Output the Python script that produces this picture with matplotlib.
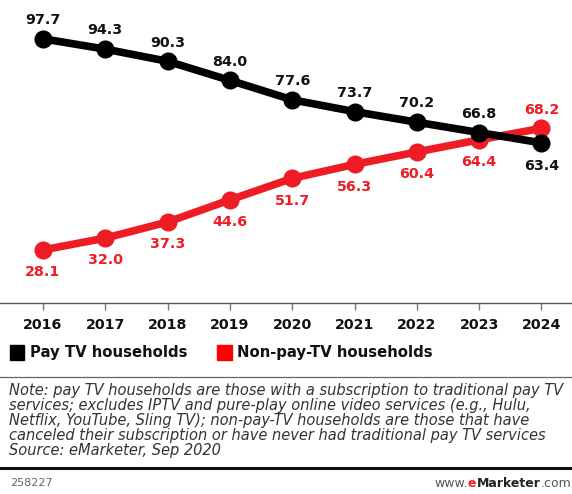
import matplotlib.pyplot as plt

years = [2016, 2017, 2018, 2019, 2020, 2021, 2022, 2023, 2024]
pay_tv = [97.7, 94.3, 90.3, 84.0, 77.6, 73.7, 70.2, 66.8, 63.4]
non_pay_tv = [28.1, 32.0, 37.3, 44.6, 51.7, 56.3, 60.4, 64.4, 68.2]

note_lines = [
    "Note: pay TV households are those with a subscription to traditional pay TV",
    "services; excludes IPTV and pure-play online video services (e.g., Hulu,",
    "Netflix, YouTube, Sling TV); non-pay-TV households are those that have",
    "canceled their subscription or have never had traditional pay TV services",
    "Source: eMarketer, Sep 2020",
]

BLACK = '#000000'
RED = '#ee1c24'
W, H = 572, 494

plt.rcParams['font.family'] = ['DejaVu Sans']
fig = plt.figure(figsize=(W / 100, H / 100), dpi=100)


def fy(px):
    # pixel row (from top) -> figure fraction
    return 1 - px / H


# plot area: full width, from the top down to the axis line at ~303px
ax = fig.add_axes([0, fy(303), 1, 303 / H])
ax.set_xlim(2015.31, 2024.49)
ax.set_ylim(10.6, 110.5)

ax.plot(years, pay_tv, color=BLACK, linewidth=5.5, marker='o', markersize=12, zorder=3)
ax.plot(years, non_pay_tv, color=RED, linewidth=5.5, marker='o', markersize=12, zorder=2)

last = len(years) - 1
for i, (yr, v) in enumerate(zip(years, pay_tv)):
    off = 13.5 if i < last else -16.5
    ax.annotate(f"{v:.1f}", (yr, v), xytext=(0, off), textcoords='offset points',
                ha='center', va='center', fontsize=10.3, fontweight='bold', color='#111111')
for i, (yr, v) in enumerate(zip(years, non_pay_tv)):
    off = -16 if i < last else 13
    ax.annotate(f"{v:.1f}", (yr, v), xytext=(0, off), textcoords='offset points',
                ha='center', va='center', fontsize=10.3, fontweight='bold', color=RED)

for side in ['top', 'right', 'left']:
    ax.spines[side].set_visible(False)
ax.spines['bottom'].set_color('#555555')
ax.spines['bottom'].set_linewidth(1.0)
ax.set_yticks([])
ax.set_xticks(years)
ax.set_xticklabels([str(y) for y in years], fontsize=10.2, fontweight='bold', color='#111111')
ax.tick_params(axis='x', direction='out', length=5, width=1, color='#777777', pad=5.5)

# legend
fig.patches.append(plt.Rectangle((10 / W, fy(360)), 14 / W, 15 / H, color=BLACK,
                                 transform=fig.transFigure, figure=fig))
fig.text(30 / W, fy(352), "Pay TV households", fontsize=10.7, fontweight='bold',
         va='center', ha='left', color='#111111')
fig.patches.append(plt.Rectangle((217 / W, fy(360)), 15 / W, 15 / H, color='#ff0000',
                                 transform=fig.transFigure, figure=fig))
fig.text(237 / W, fy(352), "Non-pay-TV households", fontsize=10.7, fontweight='bold',
         va='center', ha='left', color='#111111')

fig.add_artist(plt.Line2D([0, 1], [fy(377), fy(377)], color='#666666', linewidth=0.9))

for k, line in enumerate(note_lines):
    fig.text(9 / W, fy(390 + k * 15), line, fontsize=10.5, style='italic',
             color='#333333', va='center', ha='left')

fig.add_artist(plt.Line2D([0, 1], [fy(468), fy(468)], color='#111111', linewidth=2.2))

fig.text(10 / W, fy(483), "258227", fontsize=8, color='#666666', va='center', ha='left')

# footer url, built right to left so the bold red "e" sits in place
fig.canvas.draw()
r = fig.canvas.get_renderer()
x_right = 571
for txt, weight, col in [(".com", 'normal', '#555555'), ("Marketer", 'bold', '#222222'),
                         ("e", 'bold', RED), ("www.", 'normal', '#555555')]:
    t = fig.text(x_right / W, fy(483), txt, fontsize=9, fontweight=weight, color=col,
                 va='center', ha='right')
    x_right = t.get_window_extent(r).x0

fig.savefig('out.png', dpi=100)
